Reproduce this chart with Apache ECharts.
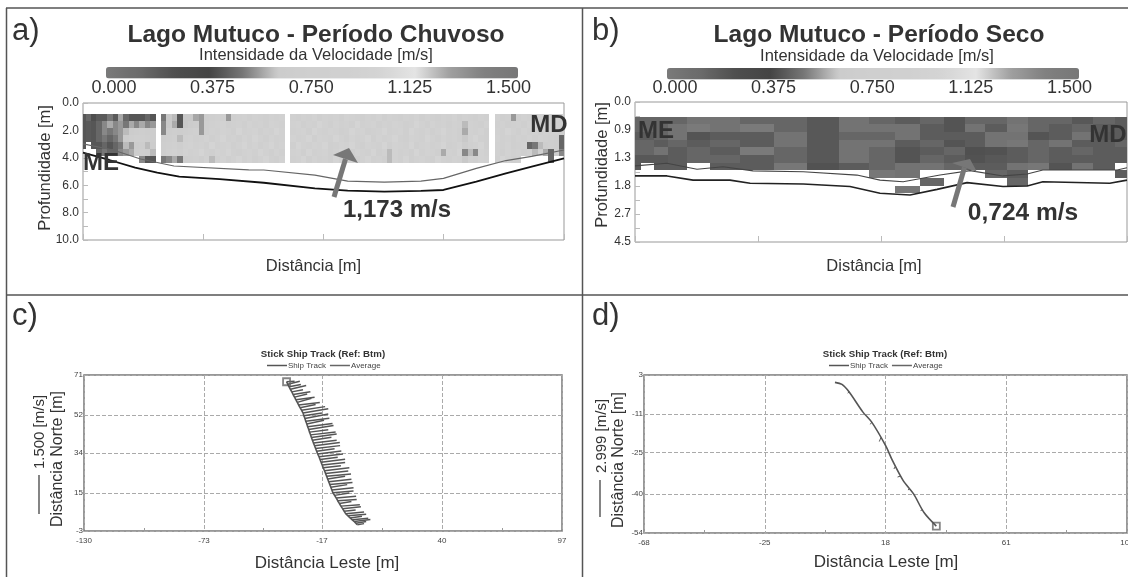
<!DOCTYPE html>
<html><head><meta charset="utf-8">
<style>html,body{margin:0;padding:0;background:#fff}#c{width:1128px;height:577px;filter:blur(0.45px)}</style>
<script src="https://cdn.jsdelivr.net/npm/echarts@6/dist/echarts.min.js"></script>
</head><body><div id="c"></div>
<script>
const F='"Liberation Sans",Arial,sans-serif';
// colour scale of the velocity bars (0 to 1.5 m/s, even steps)
const velocityColors=['#7a7a7a','#6a6a6a','#4e4e4e','#444444','#777777','#cccccc','#cfcfcf','#d0d0d0','#d4d4d4','#e4e4e4','#a0a0a0','#808080','#777777'];
const velocityTicks=['0.000','0.375','0.750','1.125','1.500'];

// panel a: velocity cells [m/s], one list per depth row
const depthRowsA=[0.8,1.31,1.82,2.33,2.84,3.35,3.86];
const rowA0=[.42,.46,.4,.43,.43,.5,.43,.57,.46,.42,.42,.42,.46,.42,null,.5,.62,.6,.42,.62,.62,.57,.55,.7,.8,.85,.8,.55,.8,.85,.9,.8,.9,.85,.8,.9,.85,.9,null,.85,.8,.9,.85,.95,.8,.9,.85,.9,.8,.95,.9,.85,.8,.9,.85,.95,.8,.9,.85,.8,.9,.85,.95,.8,.9,.85,.8,.9,.85,.95,.8,.9,.85,.8,.9,.85,null,.9,.8,.85,.55,.8,.9,.85,.8,.9,.85,.8,.85,.8];
const rowA1=[.42,.43,.42,.46,.525,.575,.525,.55,.5,.575,.525,.575,.525,.55,null,.525,.62,.575,.42,.62,.63,.65,.55,.8,.85,.9,.95,.8,.85,.9,.8,.95,.85,.9,.8,.95,.9,.85,null,.9,.95,.8,.9,.85,1,.9,.8,.95,.85,.9,.8,1,.85,.9,.95,.8,.9,.85,.95,.9,.8,.85,1,.9,.8,.95,.85,.9,.8,.9,.85,.6,.9,.85,.8,.95,null,.85,.9,.8,.85,.9,.8,.95,.85,.8,.9,.85,.8,.75];
const rowA2=[.42,.43,.42,.46,.525,.5,.525,.55,.6,.625,.65,.7,.65,.68,null,.525,.65,.7,.66,.7,.8,.85,.55,.8,.9,.85,.95,.9,.8,1,.85,.9,.95,.8,.9,.85,1,.9,null,.85,.9,.95,.8,1,.9,.85,.95,.9,.8,.85,1,.9,.95,.8,.85,.9,1,.85,.9,.95,.8,1,.9,.85,.95,.8,.9,1,.85,.9,.8,.575,.9,.85,.95,.8,null,.9,.85,1,.9,.8,.95,.85,.9,.8,.9,.85,.85,.7];
const rowA3=[.42,.43,.42,.46,.5,.458,.5,.55,.625,.7,.75,.8,.7,.65,null,.66,.7,.8,.6,.85,.9,.8,.85,.95,.8,.9,1,.85,.9,.8,.95,.85,1,.9,.8,.95,.85,.9,null,.95,.85,.9,1,.8,.95,.9,.85,1,.9,.8,.95,.85,.9,1,.8,.95,.85,.9,1,.85,.8,.95,.9,.85,1,.9,.8,.95,.85,.9,.8,.62,.9,1,.85,.8,null,.95,.85,.9,.8,.9,.85,.95,.8,.9,.85,.8,.7,.458];
const rowA4=[.42,null,.42,.42,.458,.417,.458,.5,.6,.55,.64,.66,.6,.64,null,.7,.8,.85,.7,.9,.95,.85,.9,.8,1,.85,.9,.95,.8,.9,1,.85,.95,.8,.9,1,.85,.95,null,.8,1,.9,.85,.95,.9,1,.8,.85,.95,.9,1,.85,.8,.95,.9,.85,1,.8,.95,.9,.85,1,.8,.9,.95,.85,.9,1,.8,.85,.95,.66,.85,.9,1,.8,null,.9,.85,.95,.8,.85,.9,.458,.5,.6,.7,.8,.7,.458];
const rowA5=[null,null,null,.458,.5,.458,.458,.525,.55,.575,.65,.7,.65,.6,null,.7,.85,.9,.8,.95,.85,.9,1,.85,.8,.95,.9,1,.85,.8,.9,.95,.85,1,.9,.8,.95,.85,null,.9,.95,.8,1,.85,.9,.95,.8,.9,1,.85,.8,.95,.9,.85,1,.8,.9,.6,.95,.85,.9,.8,1,.85,.95,.9,.8,.575,.9,.85,1,.525,.6,.525,.95,.85,null,.9,.8,.95,.85,.9,.8,.9,.6,.85,.575,.458,.7,.525];
const rowA6=[null,null,null,null,null,null,null,null,null,null,null,.525,.417,.42,null,.5,.525,.575,.5,.7,.8,.85,.7,.9,.6,.85,.95,.8,.9,1,.85,.95,.8,.9,1,.85,.8,.95,null,.85,.9,1,.8,.95,.85,.9,.8,1,.9,.85,.95,.8,.9,1,.85,.9,.8,.6,.95,.85,1,.8,.9,.95,.85,.8,1,.9,.85,.95,.9,.62,.85,.8,.95,.9,null,.85,1,.9,.8,.85,null,null,null,null,null,.458,null,null];
const rowsA=[rowA0,rowA1,rowA2,rowA3,rowA4,rowA5,rowA6];
const bedDistA=[0,4.9,9.7,13.8,17.9,25.4,33.6,43.1,49.2,56,62.8,67,73.1,78.6,83.4,89.4];
const bedDepthA=[3.63,4.16,4.72,5.09,5.38,5.55,5.82,6.23,6.4,6.47,6.42,6.35,5.74,5.13,4.65,4.04];
const topDistA=[0,5.6,10.7,16.9,30.8,33.6,43.1,49.2,56,62.8,67,73.1,78.6,83.4,89.4];
const topDepthA=[2.99,3.43,4.09,4.6,4.88,4.89,5.26,5.7,5.77,5.7,5.5,4.77,4.2,3.9,3.43];
const depthTicksB=['0.0','0.9','1.3','1.8','2.7','4.5'];

// panel b: ensemble edges along the section [% of distance], cells [m/s] per ensemble, rows in tick positions
const edgesB=[0,1.2,3.9,6.7,10.6,15.2,21.3,28.3,35,41.5,47.6,52.8,57.9,62.8,67.1,71.1,75.6,79.9,84.1,88.8,93.1,97.6,100];
const depthRowsB=[.525,.799,1.073,1.347,1.621,1.895,2.169,2.443,2.717,2.991];
const rowB0=[.458,.458,.458,.458,.49,.49,.458,.458,.425,.49,.458,.435,.458,.415,.458,.458,.49,.458,.458,.425,.458,.435];
const rowB1=[.458,.458,.458,.49,.505,.49,.505,.458,.425,.49,.49,.49,.435,.415,.49,.435,.5,.458,.435,.458,.435,.435];
const rowB2=[.435,.435,.458,.49,.415,.435,.435,.49,.425,.458,.458,.49,.435,.435,.435,.49,.49,.415,.435,.49,.425,.435];
const rowB3=[.458,.458,.435,.458,.435,.458,.435,.49,.425,.49,.49,.435,.458,.415,.435,.49,.5,.458,.49,.435,.435,.458];
const rowB4=[.458,.458,.49,.435,.458,.435,.505,.458,.425,.49,.458,.415,.435,.458,.405,.41,.435,.458,.435,.458,.435,.435];
const rowB5=[.425,.425,.425,.435,.458,.458,.435,.458,.425,.49,.458,.415,.458,.435,.41,.425,.435,.458,.435,.435,.435,.435];
const rowB6=[.425,null,.435,.435,null,.435,.435,.5,.41,.435,.458,.49,.49,.458,.435,.435,.49,.5,.415,.49,.435,null];
const rowB7=[null,null,null,null,null,null,null,null,null,null,.5,.49,null,null,null,.458,.435,null,null,null,null,.435];
const rowB8=[null,null,null,null,null,null,null,null,null,null,null,null,.458,null,null,null,.458,null,null,null,null,null];
const rowB9=[null,null,null,null,null,null,null,null,null,null,null,.5,null,null,null,null,null,null,null,null,null,null];
const rowsB=[rowB0,rowB1,rowB2,rowB3,rowB4,rowB5,rowB6,rowB7,rowB8,rowB9];
const bedDistB=[0,6.5,11.8,19.3,23.4,34.2,43.7,49.8,55.9,61.4,67.5,74.8,79.7,82.9,96.5,100];
const bedPosB=[2.64,2.64,2.79,2.79,2.9,2.93,3.02,3.26,3.32,3.12,2.88,3.02,3,2.85,2.9,2.79];
const topDistB=[0,6.5,12.6,17.9,24,34.2,45.1,49.8,54.5,62,68.1,74.8,79.7,82.9,98,100];
const topPosB=[2.28,2.19,2.4,2.31,2.46,2.49,2.61,2.79,2.85,2.61,2.45,2.64,2.57,2.43,2.43,2.35];

// panel c: ship track and velocity sticks [m]
const trackCy=[67.8,66.6,65.4,64.2,63,61.7,60.5,59.3,58,56.8,55.5,54.3,53,51.7,50.4,49.1,47.8,46.5,45.2,43.9,42.6,41.3,40,38.7,37.4,36.1,34.8,33.5,32.2,30.9,29.6,28.3,27,25.6,24.3,23,21.7,20.4,19.1,17.8,16.5,15.2,13.9,12.6,11.3,10,8.8,7.6,6.4,5.2,4.2,3.2,2.3,1.5,.7,0];
const trackCx=[-33.8,-33.2,-32.6,-32,-31.3,-30.7,-30,-29.4,-28.7,-28.1,-27.4,-26.7,-26,-25.6,-25.1,-24.7,-24.2,-23.8,-23.3,-22.9,-22.4,-22,-21.5,-21,-20.5,-20,-19.5,-19,-18.4,-17.9,-17.4,-16.9,-16.4,-15.8,-15.3,-14.8,-14.3,-13.8,-13.3,-12.8,-12.3,-11.8,-11,-10.2,-9.5,-8.7,-8,-7.2,-6.5,-5.7,-4.6,-3.6,-2.6,-1.7,-.9,-.2];
const stickEndCx=[-30,-27.5,-27,-24.5,-26,-22.5,-24,-20.5,-22,-18,-20,-15.5,-14,-17,-14,-13.5,-16,-12,-11.5,-14,-10.5,-10,-12.5,-10,-8.5,-8.4,-11,-7.8,-7,-9.5,-6,-6,-8,-4,-4.5,-3.2,-6,-3,-2.5,-5,-2,-2,-4,-.8,-.5,-3,1,1.5,-1,3,4,2,5,6,4,3];
const stickEndCy=[68,68,66.5,66,64,63,62,60.5,60,58,57,56,55,53,52.5,50.5,49.5,48,47,45,44,43,41.5,40,39,37.5,36,35,33.5,32,31,29.5,28,27,25.5,24,23,21.5,20,19,17.5,16,15,13.5,12,11,9.5,8.5,7,6,5,4,3,2.5,1.5,.5];
const ticksCx=[-130,-73,-17,40,97];
const minorCx=[-101.5,-45,11.5,68.5];
const ticksCy=[-3,15,34,52,71];

// panel d: ship track and sticks [m]
const trackDx=[0,2.5,5,9.9,13.1,18,20.5,24.3,28,31.7,36.1];
const trackDy=[.35,-.4,-3.05,-10.3,-14,-22.4,-27.9,-35.1,-39.9,-46.6,-51.5];
const stickBaseDx=[5,13.1,16.4,21.5,23.2,26.6,31.2];
const stickBaseDy=[-3,-14,-19.5,-30,-33.5,-38,-45.6];
const stickEndDx=[4.6,12.6,15.8,21,22.3,26,30.5];
const stickEndDy=[-3.6,-14.8,-21,-30.9,-33.8,-38.5,-45.9];
const ticksDx=[-68,-25,18,61,104];
const minorDx=[-46.5,-3.5,39.5,82.5];
const ticksDy=[-54,-40,-25,-11,3];

const heatA=[];rowsA.forEach((row,r)=>row.forEach((v,i)=>{if(v!==null)heatA.push([i-.5,i+.5,depthRowsA[r],depthRowsA[r]+.511,v]);}));
const heatB=[];rowsB.forEach((row,r)=>row.forEach((v,i)=>{if(v!==null)heatB.push([edgesB[i],edgesB[i+1],depthRowsB[r],depthRowsB[r]+.274,v]);}));
const zip=(a,b)=>a.map((v,i)=>[v,b[i]]);
function cell(p,api){
  const a=api.coord([api.value(0),api.value(2)]),b=api.coord([api.value(1),api.value(3)]);
  const x=Math.round(a[0]),y=Math.round(a[1]);
  return {type:'rect',shape:{x,y,width:Math.round(b[0])-x,height:Math.round(b[1])-y},style:{fill:api.visual('color')}};
}
const stick=w=>(p,api)=>{
  const a=api.coord([api.value(0),api.value(1)]),b=api.coord([api.value(2),api.value(3)]);
  return {type:'line',shape:{x1:a[0],y1:a[1],x2:b[0],y2:b[1]},style:{stroke:'#555',lineWidth:w}};
};
const sticksC=trackCx.map((x,i)=>[x,trackCy[i],stickEndCx[i],stickEndCy[i]]);
const sticksD=stickBaseDx.map((x,i)=>[x,stickBaseDy[i],stickEndDx[i],stickEndDy[i]]);

function vm(idx,left,top,len){return {type:'continuous',seriesIndex:idx,dimension:4,min:0,max:1.5,orient:'horizontal',left,top,itemWidth:11.5,itemHeight:len,inRange:{color:velocityColors},calculable:false,realtime:false,hoverLink:false,showLabel:false,text:null,padding:0};}
function T(text,x,y,size,o){return Object.assign({type:'text',z:100,x,y,style:{text,font:(o&&o.w||'normal')+' '+size+'px '+F,fill:(o&&o.c)||'#333',textAlign:(o&&o.a)||'center',textVerticalAlign:'middle'}},o&&o.r?{rotation:Math.PI/2}:{});}
function L(x1,y1,x2,y2,w,c){return {type:'line',z:100,shape:{x1,y1,x2,y2},style:{stroke:c||'#555',lineWidth:w||1.5}};}
function arrow(x1,y1,tx,ty,bx1,by1,bx2,by2){return [
  {type:'line',z:90,shape:{x1,y1,x2:(bx1+bx2)/2,y2:(by1+by2)/2},style:{stroke:'#777',lineWidth:5}},
  {type:'polygon',z:90,shape:{points:[[tx,ty],[bx1,by1],[bx2,by2]]},style:{fill:'#777'}}];}

const lab={fontFamily:F,color:'#333'};
const small={fontFamily:F,color:'#444',fontSize:8,margin:6};
const heatX=(gi,max,iv)=>({type:'value',gridIndex:gi,min:0,max,interval:iv,position:'bottom',axisLine:{onZero:false,show:false},axisTick:{show:true,inside:true,length:6,lineStyle:{color:'#bbb'}},axisLabel:{show:false},splitLine:{show:false}});
const heatY=(gi,max,iv,fmt)=>({type:'value',gridIndex:gi,min:0,max,interval:iv,inverse:true,axisLine:{show:false},axisTick:{show:true,inside:true,length:5,lineStyle:{color:'#bbb'}},minorTick:{show:true,splitNumber:2,length:5,lineStyle:{color:'#bbb'}},axisLabel:Object.assign({},lab,{fontSize:12,margin:4,formatter:fmt}),splitLine:{show:false},minorSplitLine:{show:false}});
const dash={show:true,lineStyle:{color:'#aaa',type:'dashed',width:1}};
const trackX=(gi,min,max,ticks)=>({type:'value',gridIndex:gi,min,max,axisLine:{onZero:false,show:false},axisTick:{show:false,customValues:ticks},axisLabel:Object.assign({},small,{customValues:ticks}),splitLine:dash});
const trackY=(gi,min,max,ticks)=>({type:'value',gridIndex:gi,min,max,axisLine:{onZero:false,show:false},axisTick:{show:false,customValues:ticks},axisLabel:Object.assign({},small,{customValues:ticks,margin:1}),splitLine:dash});
const minorX=(gi,min,max,ticks)=>({type:'value',gridIndex:gi,min,max,position:'bottom',axisLine:{show:false,onZero:false},axisTick:{show:true,inside:true,length:3,lineStyle:{color:'#999'},customValues:ticks},axisLabel:{show:false},splitLine:{show:false}});
const legendFor=(left)=>({left,top:361.5,orient:'horizontal',selectedMode:false,itemWidth:20,itemHeight:1.5,itemGap:4,padding:0,icon:'rect',textStyle:{fontFamily:F,fontSize:8,color:'#444',padding:[0,0,0,-4]},data:['Ship Track','Average']});

const chart=echarts.init(document.getElementById('c'),null,{renderer:'canvas'});
chart.setOption({
 animation:false,backgroundColor:'#fff',
 grid:[
  {left:83,top:103,width:481,height:137,show:true,borderColor:'#999',borderWidth:1,backgroundColor:'#fff',outerBoundsMode:'none'},
  {left:635,top:102,width:492,height:140,show:true,borderColor:'#999',borderWidth:1,backgroundColor:'#fff',outerBoundsMode:'none'},
  {left:84,top:375,width:478,height:156,show:true,borderColor:'#777',borderWidth:1.5,backgroundColor:'#fff',outerBoundsMode:'none'},
  {left:644,top:375,width:483,height:158,show:true,borderColor:'#777',borderWidth:1.5,backgroundColor:'#fff',outerBoundsMode:'none'}],
 xAxis:[heatX(0,89.4,22.35),heatX(1,100,25),trackX(2,-130,97,ticksCx),trackX(3,-68,104,ticksDx),minorX(2,-130,97,minorCx),minorX(3,-68,104,minorDx)],
 yAxis:[heatY(0,10,2,v=>v.toFixed(1)),heatY(1,5,1,v=>depthTicksB[v]),trackY(2,-3,71,ticksCy),trackY(3,-54,3,ticksDy)],
 visualMap:[vm(0,106,67,412),vm(1,667,68,412)],
 legend:[legendFor(267),legendFor(829)],
 series:[
  {type:'custom',name:'Velocidade a',xAxisIndex:0,yAxisIndex:0,renderItem:cell,data:heatA,clip:true,encode:{x:[0,1],y:[2,3]},silent:true},
  {type:'custom',name:'Velocidade b',xAxisIndex:1,yAxisIndex:1,renderItem:cell,data:heatB,clip:true,encode:{x:[0,1],y:[2,3]},silent:true},
  {type:'line',name:'Fundo a',xAxisIndex:0,yAxisIndex:0,data:zip(bedDistA,bedDepthA),showSymbol:false,lineStyle:{color:'#111',width:1.8},z:5,silent:true},
  {type:'line',name:'Superfície a',xAxisIndex:0,yAxisIndex:0,data:zip(topDistA,topDepthA),showSymbol:false,lineStyle:{color:'#666',width:1.2},z:5,silent:true},
  {type:'line',name:'Fundo b',xAxisIndex:1,yAxisIndex:1,data:zip(bedDistB,bedPosB),showSymbol:false,lineStyle:{color:'#222',width:1.6},z:5,silent:true},
  {type:'line',name:'Superfície b',xAxisIndex:1,yAxisIndex:1,data:zip(topDistB,topPosB),showSymbol:false,lineStyle:{color:'#444',width:1.1},z:5,silent:true},
  {type:'custom',name:'Average',xAxisIndex:2,yAxisIndex:2,renderItem:stick(1.5),data:sticksC,itemStyle:{color:'#666'},clip:true,encode:{x:[0,2],y:[1,3]},silent:true},
  {type:'line',name:'Ship Track',xAxisIndex:2,yAxisIndex:2,data:zip(trackCx,trackCy),showSymbol:false,smooth:.3,lineStyle:{color:'#555',width:1.6},itemStyle:{color:'#555'},z:4,silent:true},
  {type:'scatter',name:'Início c',xAxisIndex:2,yAxisIndex:2,data:[[trackCx[0],trackCy[0]]],symbol:'rect',symbolSize:7,itemStyle:{color:'rgba(0,0,0,0)',borderColor:'#666',borderWidth:1.8},silent:true},
  {type:'custom',name:'Average',xAxisIndex:3,yAxisIndex:3,renderItem:stick(1),data:sticksD,itemStyle:{color:'#666'},clip:true,encode:{x:[0,2],y:[1,3]},silent:true},
  {type:'line',name:'Ship Track',xAxisIndex:3,yAxisIndex:3,data:zip(trackDx,trackDy),showSymbol:false,smooth:.3,lineStyle:{color:'#555',width:1.6},itemStyle:{color:'#555'},z:4,silent:true},
  {type:'scatter',name:'Início d',xAxisIndex:3,yAxisIndex:3,data:[[trackDx[10],trackDy[10]]],symbol:'rect',symbolSize:7,itemStyle:{color:'rgba(0,0,0,0)',borderColor:'#666',borderWidth:1.8},silent:true}
 ],
 graphic:{elements:[
  L(6.5,8,6.5,577),L(6,8,1128,8),L(582.5,8,582.5,577),L(6,295,1128,295),
  T('a)',12,31,31,{a:'left'}),T('b)',592,31,31,{a:'left'}),T('c)',12,316,31,{a:'left'}),T('d)',592,316,31,{a:'left'}),
  T('Lago Mutuco - Período Chuvoso',316,35,24.5,{w:'bold'}),T('Lago Mutuco - Período Seco',879,35,24.5,{w:'bold'}),
  T('Intensidade da Velocidade [m/s]',316,55,16.5),T('Intensidade da Velocidade [m/s]',877,56,16.5),
  ...velocityTicks.map((t,i)=>T(t,114+i*98.6,88.5,18)),
  ...velocityTicks.map((t,i)=>T(t,675+i*98.6,88.5,18)),
  T('Profundidade [m]',45,168,16.5,{r:1}),T('Profundidade [m]',602,165,16.5,{r:1}),
  T('Distância [m]',313.5,266,16.5),T('Distância [m]',874,266,16.5),
  T('ME',101,163,24,{w:'bold'}),T('MD',549,125,24,{w:'bold'}),T('ME',656,131,24,{w:'bold'}),T('MD',1108,135,24,{w:'bold'}),
  T('1,173 m/s',397,210,24,{w:'bold'}),T('0,724 m/s',1023,213,24.5,{w:'bold'}),
  ...arrow(334,197,349,148,333,155,358,163),...arrow(953,207,970,159,952,163,977,172),
  T('Stick Ship Track (Ref: Btm)',323,354,9.7,{w:'bold'}),T('Stick Ship Track (Ref: Btm)',885,354,9.7,{w:'bold'}),
  T('Distância Leste [m]',327,563,17),T('Distância Leste [m]',886,562,17),
  T('Distância Norte [m]',58,459,16,{r:1}),T('1.500 [m/s]',40,432,15,{r:1}),L(39,475,39,514,1.2,'#333'),
  T('Distância Norte [m]',619,460,16,{r:1}),T('2.999 [m/s]',602,436,15,{r:1}),L(600,480,600,517,1.2,'#333')
 ]}
});
</script></body></html>
